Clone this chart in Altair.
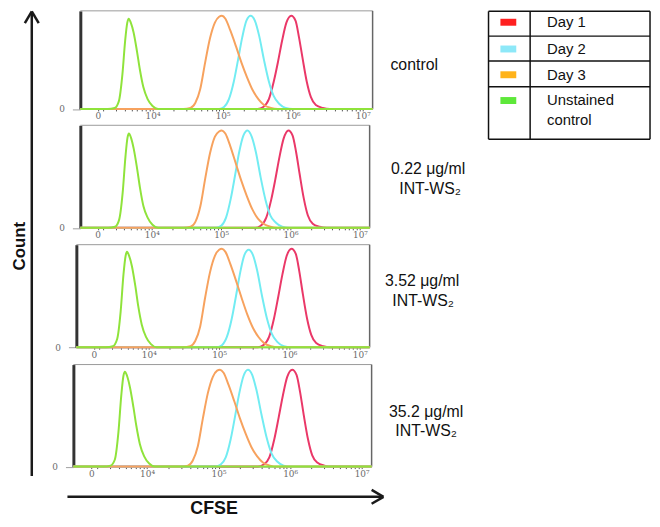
import math
import altair as alt
import pandas as pd

# ---------------- data ----------------
SERIES = ["Day 1", "Day 2", "Day 3", "Unstained control"]
LINE_COLORS = ["#ea3868", "#72ecf2", "#f7a25e", "#8fe33b"]
SWATCH_COLORS = ["#ff2020", "#8de8f8", "#ffb31a", "#5ee83a"]
LEGEND_TEXT = ["Day 1", "Day 2", "Day 3", "Unstained\ncontrol"]
PANEL_LABELS = [["control"], ["0.22 μg/ml", "INT-WS₂"], ["3.52 μg/ml", "INT-WS₂"], ["35.2 μg/ml", "INT-WS₂"]]
TICK_POS = [3.22, 4, 5, 6, 7]          # CFSE axis positions, in decades
TICK_TEXT = ["0", "10⁴", "10⁵", "10⁶", "10⁷"]
X_DOMAIN = [2.97, 7.14]
Y_DOMAIN = [0, 100]

# Panel 1 : control
P1_DAY1_X = [2.97, 5.50, 5.58, 5.66, 5.73, 5.79, 5.85, 5.91, 5.98, 6.04, 6.09, 6.14, 6.20, 6.26, 6.33, 6.43, 6.53, 7.14]
P1_DAY1_Y = [0, 0, 2, 10, 28, 48, 70, 88, 95, 90, 73, 52, 28, 12, 4, 1, 0, 0]
P1_DAY2_X = [2.97, 4.95, 5.02, 5.09, 5.16, 5.22, 5.28, 5.34, 5.40, 5.46, 5.52, 5.59, 5.66, 5.73, 5.81, 5.90, 6.00, 7.14]
P1_DAY2_Y = [0, 0, 2, 10, 28, 50, 73, 90, 95, 90, 75, 50, 28, 13, 5, 1, 0, 0]
P1_DAY3_X = [2.97, 4.44, 4.54, 4.61, 4.68, 4.75, 4.82, 4.89, 4.95, 4.99, 5.04, 5.11, 5.19, 5.27, 5.35, 5.43, 5.51, 5.59, 5.69, 5.79, 7.14]
P1_DAY3_Y = [0, 0, 1, 6, 20, 47, 72, 88, 94, 95, 92, 80, 64, 47, 32, 19, 10, 4, 1, 0, 0]
P1_UNST_X = [2.97, 3.36, 3.46, 3.52, 3.57, 3.61, 3.64, 3.66, 3.69, 3.73, 3.78, 3.82, 3.87, 3.93, 4.00, 4.08, 7.14]
P1_UNST_Y = [0, 0, 1, 8, 35, 70, 88, 92, 88, 78, 58, 40, 22, 10, 3, 0, 0]

# Panel 2 : 0.22 ug/ml
P2_DAY1_X = [2.97, 5.49, 5.57, 5.65, 5.72, 5.78, 5.84, 5.90, 5.97, 6.03, 6.08, 6.13, 6.19, 6.25, 6.32, 6.42, 6.52, 7.14]
P2_DAY1_Y = [0, 0, 2, 10, 27, 47, 69, 87, 95, 90, 74, 53, 29, 12, 4, 1, 0, 0]
P2_DAY2_X = [2.97, 4.93, 5.00, 5.07, 5.14, 5.20, 5.26, 5.32, 5.38, 5.44, 5.50, 5.57, 5.64, 5.71, 5.79, 5.88, 5.98, 7.14]
P2_DAY2_Y = [0, 0, 2, 10, 29, 51, 74, 90, 95, 89, 74, 49, 27, 12, 5, 1, 0, 0]
P2_DAY3_X = [2.97, 4.46, 4.56, 4.63, 4.70, 4.77, 4.84, 4.91, 4.97, 5.01, 5.06, 5.13, 5.21, 5.29, 5.37, 5.45, 5.53, 5.61, 5.71, 5.81, 7.14]
P2_DAY3_Y = [0, 0, 1, 6, 21, 48, 73, 89, 94, 95, 92, 80, 63, 46, 31, 18, 9, 4, 1, 0, 0]
P2_UNST_X = [2.97, 3.37, 3.47, 3.53, 3.58, 3.62, 3.65, 3.67, 3.70, 3.74, 3.79, 3.83, 3.88, 3.94, 4.01, 4.09, 7.14]
P2_UNST_Y = [0, 0, 1, 8, 34, 69, 88, 92, 88, 77, 57, 39, 21, 10, 3, 0, 0]

# Panel 3 : 3.52 ug/ml
P3_DAY1_X = [2.97, 5.55, 5.63, 5.71, 5.78, 5.84, 5.90, 5.96, 6.03, 6.09, 6.14, 6.19, 6.25, 6.31, 6.38, 6.48, 6.58, 7.14]
P3_DAY1_Y = [0, 0, 2, 10, 28, 49, 71, 89, 96, 91, 74, 52, 28, 12, 4, 1, 0, 0]
P3_DAY2_X = [2.97, 4.97, 5.04, 5.11, 5.18, 5.24, 5.30, 5.36, 5.42, 5.48, 5.54, 5.61, 5.68, 5.75, 5.83, 5.92, 6.02, 7.14]
P3_DAY2_Y = [0, 0, 2, 10, 28, 50, 73, 90, 95, 90, 75, 50, 28, 13, 5, 1, 0, 0]
P3_DAY3_X = [2.97, 4.49, 4.59, 4.66, 4.73, 4.80, 4.87, 4.94, 5.00, 5.04, 5.09, 5.16, 5.24, 5.32, 5.40, 5.48, 5.56, 5.64, 5.74, 5.84, 7.14]
P3_DAY3_Y = [0, 0, 1, 6, 20, 48, 73, 89, 95, 96, 93, 81, 65, 48, 32, 19, 10, 4, 1, 0, 0]
P3_UNST_X = [2.97, 3.39, 3.49, 3.55, 3.60, 3.64, 3.67, 3.69, 3.72, 3.76, 3.81, 3.85, 3.90, 3.96, 4.03, 4.11, 7.14]
P3_UNST_Y = [0, 0, 1, 8, 35, 71, 89, 93, 89, 79, 59, 40, 22, 10, 3, 0, 0]

# Panel 4 : 35.2 ug/ml
P4_DAY1_X = [2.97, 5.55, 5.63, 5.71, 5.78, 5.84, 5.90, 5.96, 6.03, 6.09, 6.14, 6.19, 6.25, 6.31, 6.38, 6.48, 6.58, 7.14]
P4_DAY1_Y = [0, 0, 2, 9, 27, 48, 70, 88, 95, 90, 73, 51, 27, 11, 4, 1, 0, 0]
P4_DAY2_X = [2.97, 4.96, 5.03, 5.10, 5.17, 5.23, 5.29, 5.35, 5.41, 5.47, 5.53, 5.60, 5.67, 5.74, 5.82, 5.91, 6.01, 7.14]
P4_DAY2_Y = [0, 0, 2, 9, 27, 49, 72, 89, 95, 90, 75, 51, 29, 13, 5, 1, 0, 0]
P4_DAY3_X = [2.97, 4.47, 4.57, 4.64, 4.71, 4.78, 4.85, 4.92, 4.98, 5.02, 5.07, 5.14, 5.22, 5.30, 5.38, 5.46, 5.54, 5.62, 5.72, 5.82, 7.14]
P4_DAY3_Y = [0, 0, 1, 6, 20, 47, 72, 88, 94, 95, 92, 80, 64, 47, 32, 19, 10, 4, 1, 0, 0]
P4_UNST_X = [2.97, 3.39, 3.49, 3.55, 3.60, 3.64, 3.67, 3.69, 3.72, 3.76, 3.81, 3.85, 3.90, 3.96, 4.03, 4.11, 7.14]
P4_UNST_Y = [0, 0, 1, 7, 34, 70, 89, 93, 89, 78, 58, 40, 22, 10, 3, 0, 0]

PANEL_XS = [
    [P1_DAY1_X, P1_DAY2_X, P1_DAY3_X, P1_UNST_X],
    [P2_DAY1_X, P2_DAY2_X, P2_DAY3_X, P2_UNST_X],
    [P3_DAY1_X, P3_DAY2_X, P3_DAY3_X, P3_UNST_X],
    [P4_DAY1_X, P4_DAY2_X, P4_DAY3_X, P4_UNST_X],
]
PANEL_YS = [
    [P1_DAY1_Y, P1_DAY2_Y, P1_DAY3_Y, P1_UNST_Y],
    [P2_DAY1_Y, P2_DAY2_Y, P2_DAY3_Y, P2_UNST_Y],
    [P3_DAY1_Y, P3_DAY2_Y, P3_DAY3_Y, P3_UNST_Y],
    [P4_DAY1_Y, P4_DAY2_Y, P4_DAY3_Y, P4_UNST_Y],
]

# ---------------- layout (pixels) ----------------
W, H = 650, 511
FONT = "Liberation Sans"
# left, right, top, baseline of each panel's plot box
PANEL_BOX = [(73, 368, 0.5, 99.5), (73, 365, 116, 219.5), (69, 365, 236.5, 340), (66, 367, 357.5, 460.5)]
LABEL_POS = [[(410, 55)], [(424, 160), (426, 180)], [(418, 273), (419, 293)], [(422, 405), (422, 425)]]

MINOR = [k + math.log10(m) for k in (3, 4, 5, 6) for m in range(2, 10)]
MINOR = [v for v in MINOR if X_DOMAIN[0] < v < X_DOMAIN[1]]
TICK_VALUES = sorted(set(TICK_POS + MINOR))

label_expr = "''"
for p, t in reversed(list(zip(TICK_POS, TICK_TEXT))):
    label_expr = f"abs(datum.value - {p}) < 0.001 ? '{t}' : ({label_expr})"

dummy = pd.DataFrame({"k": [0]})


def panel_df(k):
    rows = []
    for s, xs, ys in zip(SERIES, PANEL_XS[k], PANEL_YS[k]):
        for x, y in zip(xs, ys):
            rows.append({"cfse": x, "count": y, "series": s})
    return pd.DataFrame(rows)


def make_panel(k):
    left, right, top, base = PANEL_BOX[k]
    xs = alt.Scale(domain=X_DOMAIN, range=[left, right], nice=False, zero=False)
    ys = alt.Scale(domain=Y_DOMAIN, range=[base, top], nice=False)
    xaxis = alt.Axis(orient="bottom", offset=base - H, values=TICK_VALUES, labelExpr=label_expr,
                     title=None, grid=False, domainColor="#9a9a9a", domainWidth=1,
                     tickColor="#555555", tickSize=2, tickWidth=1, labelColor="#6a6a6a",
                     labelFontSize=9, labelFont="DejaVu Serif", labelPadding=1,
                     labelFlush=False, labelOverlap=False)
    yaxis = alt.Axis(orient="left", offset=-left, values=[0], labelExpr="'0'", title=None,
                     grid=False, domainColor="#333333", domainWidth=3, tickColor="#a0a0a0",
                     tickSize=8, tickWidth=1, labelColor="#6a6a6a", labelFontSize=9,
                     labelFont="DejaVu Serif", labelPadding=8)
    df = panel_df(k)
    layers = []
    for s in SERIES:
        layers.append(
            alt.Chart(df).transform_filter(alt.datum.series == s)
            .mark_line(strokeWidth=2, interpolate="monotone")
            .encode(
                x=alt.X("cfse:Q", scale=xs, axis=xaxis),
                y=alt.Y("count:Q", scale=ys, axis=yaxis),
                color=alt.Color("series:N", scale=alt.Scale(domain=SERIES, range=LINE_COLORS), legend=None),
            )
        )
    top_rule = alt.Chart(dummy).mark_rule(color="#9a9a9a", strokeWidth=1).encode(
        x=alt.X(datum=X_DOMAIN[0], type="quantitative", scale=xs, axis=xaxis),
        x2=alt.X2(datum=X_DOMAIN[1]),
        y=alt.Y(datum=Y_DOMAIN[1], type="quantitative", scale=ys, axis=yaxis),
    )
    right_rule = alt.Chart(dummy).mark_rule(color="#666666", strokeWidth=1.5).encode(
        x=alt.X(datum=X_DOMAIN[1], type="quantitative", scale=xs, axis=xaxis),
        y=alt.Y(datum=Y_DOMAIN[0], type="quantitative", scale=ys, axis=yaxis),
        y2=alt.Y2(datum=Y_DOMAIN[1]),
    )
    return alt.layer(top_rule, right_rule, *layers)


def seg(x1, y1, x2, y2, color="#1a1a1a", w=2.5):
    return alt.Chart(dummy).mark_rule(color=color, strokeWidth=w).encode(
        x=alt.value(x1), y=alt.value(y1), x2=alt.value(x2), y2=alt.value(y2))


def txt(s, x, y, size=14, bold=False, align="center", angle=0, **kw):
    return alt.Chart(dummy).mark_text(
        text=s, font=FONT, fontSize=size, fontWeight="bold" if bold else "normal",
        align=align, baseline="middle", angle=angle, color="#111111", **kw
    ).encode(x=alt.value(x), y=alt.value(y))


deco = []
# Count arrow
deco += [seg(24, 2, 24, 470), seg(24, 1, 17, 13), seg(24, 1, 31, 13)]
deco.append(txt("Count", 12, 238, size=17, bold=True, angle=270))
# CFSE arrow
deco += [seg(60, 491, 378, 491), seg(379, 491, 367, 484), seg(379, 491, 367, 498)]
deco.append(txt("CFSE", 208, 503, size=18, bold=True))
# panel labels
for lines, poss in zip(PANEL_LABELS, LABEL_POS):
    for s, (x, y) in zip(lines, poss):
        deco.append(txt(s, x, y, size=16))
# legend table
LX0, LX1, LDIV = 485, 648, 527
LROWS = [1, 26, 51, 77, 130]
for yy in LROWS:
    deco.append(seg(LX0, yy, LX1, yy, color="#111111", w=1.5))
for xx in (LX0, LDIV, LX1):
    deco.append(seg(xx, LROWS[0], xx, LROWS[-1], color="#111111", w=1.5))
SW_Y = [12, 39, 65, 91]
for c, yy, s in zip(SWATCH_COLORS, SW_Y, LEGEND_TEXT):
    deco.append(alt.Chart(dummy).mark_rect(color=c).encode(
        x=alt.value(497), x2=alt.value(513), y=alt.value(yy - 3.5), y2=alt.value(yy + 3.5)))
    deco.append(txt(s, 544, yy, size=15, align="left", lineBreak="\n", lineHeight=20))

panels = [make_panel(k) for k in range(4)]

chart = (
    alt.layer(*panels, *deco)
    .resolve_scale(x="independent", y="independent")
    .properties(width=W, height=H, padding=0, autosize=alt.AutoSizeParams(type="none"),
                background="white")
    .configure_view(stroke=None)
)

chart.save("out.html", embed_options={"renderer": "svg", "actions": False})
